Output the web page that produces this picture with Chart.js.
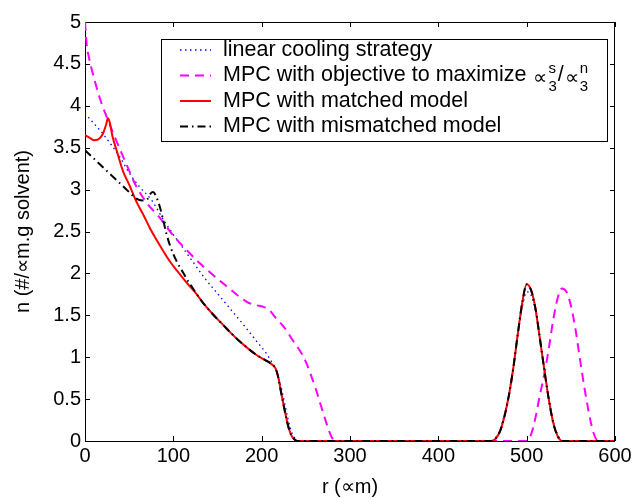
<!DOCTYPE html>
<html>
<head>
<meta charset="utf-8">
<script src="https://cdn.jsdelivr.net/npm/chart.js@4.4.1/dist/chart.umd.min.js"></script>
<style>
  html, body { margin: 0; padding: 0; background: #fff; }
  #wrap { width: 635px; height: 499px; }
</style>
</head>
<body>
<div id="wrap"><canvas id="chart-csd" width="635" height="499"></canvas></div>
<script>
// tick values and labels
const xTicks = [0, 100, 200, 300, 400, 500, 600];
const xTickLabels = ['0', '100', '200', '300', '400', '500', '600'];
const yTicks = [0, 0.5, 1, 1.5, 2, 2.5, 3, 3.5, 4, 4.5, 5];
const yTickLabels = ['0', '0.5', '1', '1.5', '2', '2.5', '3', '3.5', '4', '4.5', '5'];

// linear cooling strategy
const linearR = [0, 10, 20, 30, 40, 50, 62, 75, 90, 105, 120, 135, 150, 165, 180, 195, 205, 211, 214, 217, 220, 223, 226, 229, 232, 235, 238, 242,
    460, 465, 470, 475, 480, 485, 490, 495, 500, 505, 510, 515, 520, 525, 530, 535, 540, 545, 600];
const linearN = [3.91, 3.79, 3.67, 3.53, 3.38, 3.20, 3.03, 2.88, 2.62, 2.39, 2.17, 1.95, 1.76, 1.57, 1.38, 1.18, 1.05, 0.95, 0.90, 0.82, 0.72, 0.60, 0.45, 0.30, 0.17, 0.08, 0.03, 0,
    0, 0.04, 0.14, 0.33, 0.58, 0.90, 1.28, 1.60, 1.78, 1.74, 1.55, 1.22, 0.86, 0.52, 0.24, 0.08, 0.01, 0, 0];

// MPC with objective to maximize mu3s/mu3n
const objR = [0, 2, 4, 7, 11, 15, 19, 26, 36, 47, 58, 70, 85, 100, 115, 130, 145, 160, 175, 185, 194, 202, 209, 215, 222, 228, 234, 240, 246, 251, 256, 261, 266, 271, 275, 279, 283,
    500, 505, 510, 515, 520, 525, 530, 535, 540, 545, 550, 555, 560, 565, 570, 575, 580, 585, 600];
const objN = [5.0, 4.72, 4.6, 4.46, 4.30, 4.15, 4.02, 3.83, 3.57, 3.30, 3.04, 2.84, 2.66, 2.45, 2.28, 2.12, 1.98, 1.85, 1.72, 1.65, 1.62, 1.60, 1.56, 1.48, 1.40, 1.32, 1.22, 1.13, 1.03, 0.92, 0.78, 0.63, 0.46, 0.29, 0.16, 0.05, 0,
    0, 0.08, 0.28, 0.55, 0.80, 1.10, 1.44, 1.70, 1.82, 1.78, 1.62, 1.35, 1.00, 0.66, 0.36, 0.12, 0.01, 0, 0];

// MPC with matched model
const matchedR = [0, 5, 10, 15, 20, 24, 26, 28, 31, 36, 43, 50, 58, 66, 74, 85, 95, 105, 115, 125, 135, 145, 155, 165, 175, 185, 195, 205, 212, 216, 219, 222, 225, 228, 231, 234, 237, 240,
    460, 465, 470, 475, 480, 485, 490, 495, 500, 505, 510, 515, 520, 525, 530, 535, 540, 600];
const matchedN = [3.65, 3.62, 3.59, 3.60, 3.66, 3.78, 3.85, 3.80, 3.64, 3.46, 3.22, 3.06, 2.86, 2.70, 2.53, 2.33, 2.16, 2.02, 1.89, 1.77, 1.63, 1.51, 1.40, 1.29, 1.19, 1.10, 1.02, 0.96, 0.91, 0.86, 0.75, 0.58, 0.42, 0.27, 0.14, 0.06, 0.02, 0,
    0, 0.03, 0.12, 0.30, 0.55, 0.88, 1.28, 1.65, 1.87, 1.80, 1.58, 1.22, 0.85, 0.50, 0.22, 0.06, 0, 0];

// MPC with mismatched model
const mismatchR = [0, 10, 20, 30, 40, 50, 57, 65, 70, 74, 77, 80, 84, 88, 92, 96, 100, 105, 111, 116, 121, 126, 135, 145, 155, 165, 175, 185, 195, 205, 212, 216, 219, 222, 225, 228, 231, 234, 237, 240,
    460, 465, 470, 475, 480, 485, 490, 495, 500, 505, 510, 515, 520, 525, 530, 535, 540, 600];
const mismatchN = [3.47, 3.37, 3.27, 3.17, 3.07, 2.97, 2.90, 2.87, 2.88, 2.95, 2.97, 2.93, 2.82, 2.66, 2.48, 2.34, 2.23, 2.12, 2.01, 1.92, 1.84, 1.76, 1.63, 1.51, 1.40, 1.29, 1.19, 1.10, 1.02, 0.96, 0.91, 0.86, 0.75, 0.58, 0.42, 0.27, 0.14, 0.06, 0.02, 0,
    0, 0.03, 0.12, 0.30, 0.55, 0.88, 1.28, 1.65, 1.87, 1.80, 1.58, 1.22, 0.85, 0.50, 0.22, 0.06, 0, 0];

const legendLabels = ['linear cooling strategy', 'MPC with objective to maximize', 'MPC with matched model', 'MPC with mismatched model'];

const FONT = "'Liberation Sans', Arial, sans-serif";

function toPoints(rs, ns) {
    return rs.map((r, i) => ({ x: r, y: ns[i] }));
}

// series styles, in legend order
const styles = [
    { color: '#0000ff', width: 1.3, dash: [1.5, 3.5] },
    { color: '#ff00ff', width: 2, dash: [9, 6] },
    { color: '#ff0000', width: 2, dash: [] },
    { color: '#000000', width: 2, dash: [8, 4, 1.5, 4] }
];

// box round the axes with inward ticks, MATLAB style
const framePlugin = {
    id: 'frame',
    beforeDatasetsDraw(chart) {
        const { ctx, chartArea: a, scales: { x, y } } = chart;
        ctx.save();
        ctx.strokeStyle = '#000';
        ctx.lineWidth = 1;
        ctx.strokeRect(Math.round(a.left) + 0.5, Math.round(a.top) + 0.5, Math.round(a.width) - 1, Math.round(a.height));
        ctx.beginPath();
        x.ticks.forEach(t => {
            const px = Math.round(x.getPixelForValue(t.value)) + 0.5;
            ctx.moveTo(px, a.top); ctx.lineTo(px, a.top + 5);
            ctx.moveTo(px, a.bottom); ctx.lineTo(px, a.bottom - 5);
        });
        y.ticks.forEach(t => {
            const py = Math.round(y.getPixelForValue(t.value)) + 0.5;
            ctx.moveTo(a.left, py); ctx.lineTo(a.left + 5, py);
            ctx.moveTo(a.right, py); ctx.lineTo(a.right - 5, py);
        });
        ctx.stroke();
        ctx.restore();
    }
};

// legend box inside the plot, upper right
const legendPlugin = {
    id: 'boxLegend',
    afterDatasetsDraw(chart) {
        const { ctx, chartArea: a } = chart;
        const left = a.left + 76, top = a.top + 17, right = a.right - 8, bottom = a.top + 119;
        ctx.save();
        ctx.fillStyle = '#fff';
        ctx.fillRect(left, top, right - left, bottom - top);
        ctx.strokeStyle = '#000';
        ctx.lineWidth = 1;
        ctx.strokeRect(left + 0.5, top + 0.5, right - left, bottom - top);

        legendLabels.forEach((label, i) => {
            const yy = top + 11 + i * 25.5;
            const s = styles[i];
            ctx.strokeStyle = s.color;
            ctx.lineWidth = s.width;
            ctx.setLineDash(s.dash);
            ctx.beginPath();
            ctx.moveTo(left + 19, yy);
            ctx.lineTo(left + 50, yy);
            ctx.stroke();
            ctx.setLineDash([]);

            ctx.fillStyle = '#000';
            ctx.textBaseline = 'middle';
            ctx.textAlign = 'left';
            ctx.font = '21.5px ' + FONT;
            let tx = left + 62;
            ctx.fillText(label, tx, yy);
            if (i === 1) {
                // mu3s / mu3n ratio with stacked super/subscripts
                tx += ctx.measureText(label).width + 7;
                const parts = [['s', '3'], ['n', '3']];
                parts.forEach((p, k) => {
                    ctx.font = '20px ' + FONT;
                    ctx.fillText('\u221d', tx, yy + 3);
                    tx += ctx.measureText('\u221d').width + 1;
                    ctx.font = '15px ' + FONT;
                    ctx.fillText(p[0], tx, yy - 7);
                    ctx.fillText(p[1], tx, yy + 11);
                    tx += Math.max(ctx.measureText(p[0]).width, ctx.measureText(p[1]).width) + 1;
                    if (k === 0) {
                        ctx.font = '21.5px ' + FONT;
                        ctx.fillText('/', tx, yy);
                        tx += ctx.measureText('/').width + 1;
                    }
                });
            }
        });
        ctx.restore();
    }
};

const datasets = [
    { label: legendLabels[0], data: toPoints(linearR, linearN), order: 4 },
    { label: legendLabels[1], data: toPoints(objR, objN), order: 3 },
    { label: legendLabels[2], data: toPoints(matchedR, matchedN), order: 2 },
    { label: legendLabels[3], data: toPoints(mismatchR, mismatchN), order: 1 }
].map((d, i) => Object.assign(d, {
    borderColor: styles[i].color,
    borderWidth: styles[i].width,
    borderDash: styles[i].dash,
    pointRadius: 0,
    fill: false,
    cubicInterpolationMode: 'monotone'
}));

new Chart(document.getElementById('chart-csd').getContext('2d'), {
    type: 'line',
    data: { datasets: datasets },
    options: {
        responsive: false,
        animation: false,
        events: [],
        layout: { padding: { top: 22, right: 20, left: 0, bottom: 0 } },
        plugins: { legend: { display: false }, tooltip: { enabled: false } },
        scales: {
            x: {
                type: 'linear',
                min: 0,
                max: 600,
                afterBuildTicks: s => { s.ticks = xTicks.map(v => ({ value: v })); },
                afterFit: s => { s.height = 58; },
                ticks: {
                    color: '#000',
                    font: { family: FONT, size: 20 },
                    padding: 3,
                    maxRotation: 0,
                    callback: (v, i) => xTickLabels[i]
                },
                grid: { display: false, drawTicks: false },
                border: { display: false },
                title: {
                    display: true,
                    text: 'r (\u221dm)',
                    color: '#000',
                    font: { family: FONT, size: 20 },
                    padding: { top: 0, bottom: 0 }
                }
            },
            y: {
                type: 'linear',
                min: 0,
                max: 5,
                afterBuildTicks: s => { s.ticks = yTicks.map(v => ({ value: v })); },
                afterFit: s => { s.width = 85; },
                ticks: {
                    color: '#000',
                    font: { family: FONT, size: 20 },
                    padding: 4,
                    callback: (v, i) => yTickLabels[i]
                },
                grid: { display: false, drawTicks: false },
                border: { display: false },
                title: {
                    display: true,
                    text: 'n (#/\u221dm.g solvent)',
                    color: '#000',
                    font: { family: FONT, size: 20 },
                    padding: { top: 11, bottom: 0 }
                }
            }
        }
    },
    plugins: [framePlugin, legendPlugin]
});
</script>
</body>
</html>
